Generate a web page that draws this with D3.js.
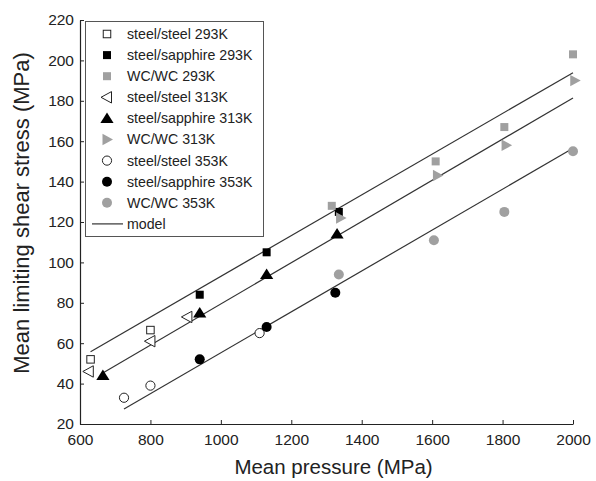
<!DOCTYPE html>
<html>
<head>
<meta charset="utf-8">
<script src="https://cdn.jsdelivr.net/npm/d3@7"></script>
<style>
  html, body { margin: 0; padding: 0; background: #fff; }
  svg { display: block; font-family: "Liberation Sans", Arial, sans-serif; }
</style>
</head>
<body>
<svg id="chart" width="596" height="481"></svg>
<script>
// Mean limiting shear stress vs mean pressure for three contact pairs at three temperatures
const xTicks = [600, 800, 1000, 1200, 1400, 1600, 1800, 2000];
const yTicks = [20, 40, 60, 80, 100, 120, 140, 160, 180, 200, 220];

const seriesNames = [
  "steel/steel 293K", "steel/sapphire 293K", "WC/WC 293K",
  "steel/steel 313K", "steel/sapphire 313K", "WC/WC 313K",
  "steel/steel 353K", "steel/sapphire 353K", "WC/WC 353K"
];
const seriesShapes = ["square", "square", "square", "triLeft", "triUp", "triRight", "circle", "circle", "circle"];
const seriesFills = ["open", "black", "gray", "open", "black", "gray", "open", "black", "gray"];

const steelSteel293P = [630, 800];
const steelSteel293T = [52, 66.5];
const steelSapphire293P = [940, 1130, 1335];
const steelSapphire293T = [84, 105, 125];
const wcwc293P = [1315, 1610, 1805, 2000];
const wcwc293T = [128, 150, 167, 203];

const steelSteel313P = [625, 800, 905];
const steelSteel313T = [46, 61, 73];
const steelSapphire313P = [665, 940, 1130, 1330];
const steelSapphire313T = [44, 75, 94, 114];
const wcwc313P = [1340, 1615, 1810, 2005];
const wcwc313T = [122, 143, 158, 190];

const steelSteel353P = [725, 800, 1110];
const steelSteel353T = [33, 39, 65];
const steelSapphire353P = [940, 1130, 1325];
const steelSapphire353T = [52, 68, 85];
const wcwc353P = [1335, 1605, 1805, 2000];
const wcwc353T = [94, 111, 125, 155];

const seriesP = [steelSteel293P, steelSapphire293P, wcwc293P, steelSteel313P, steelSapphire313P, wcwc313P, steelSteel353P, steelSapphire353P, wcwc353P];
const seriesT = [steelSteel293T, steelSapphire293T, wcwc293T, steelSteel313T, steelSapphire313T, wcwc313T, steelSteel353T, steelSapphire353T, wcwc353T];

// Model fit lines (one per temperature): start/end pressure and stress
const modelP = [[630, 2000], [666, 2000], [725, 2000]];
const modelT = [[55.8, 193.9], [45.4, 181.4], [27.4, 156.5]];

const svg = d3.select("#chart");
const plotLeft = 80, plotRight = 573, plotTop = 20, plotBottom = 424;

const x = d3.scaleLinear().domain([600, 2000]).range([plotLeft, plotRight]);
const y = d3.scaleLinear().domain([20, 220]).range([plotBottom, plotTop]);

const axisColor = "#222";
const gray = "#a0a0a0";

// Axes with inward ticks
const gx = svg.append("g").attr("transform", `translate(0,${plotBottom})`)
  .call(d3.axisBottom(x).tickValues(xTicks).tickSize(-4).tickPadding(8).tickSizeOuter(0).tickFormat(d3.format("d")));
const gy = svg.append("g").attr("transform", `translate(${plotLeft},0)`)
  .call(d3.axisLeft(y).tickValues(yTicks).tickSize(-4).tickPadding(8).tickSizeOuter(0).tickFormat(d3.format("d")));
[gx, gy].forEach(g => {
  g.select(".domain").attr("stroke", axisColor).attr("stroke-width", 1.2);
  g.selectAll(".tick line").attr("stroke", axisColor);
  g.selectAll(".tick text").attr("fill", "#222").style("font-size", "15.5px").style("font-family", "Liberation Sans, Arial, sans-serif");
});
gy.selectAll(".tick text").attr("x", -6);
gx.selectAll(".tick text").attr("dy", "0.85em");

// Axis titles
svg.append("text").attr("x", 333.5).attr("y", 474)
  .attr("text-anchor", "middle").attr("fill", "#222").style("font-size", "20.5px")
  .text("Mean pressure (MPa)");
svg.append("text").attr("transform", "translate(29,213) rotate(-90)")
  .attr("text-anchor", "middle").attr("fill", "#222").style("font-size", "22px")
  .text("Mean limiting shear stress (MPa)");

// Model lines
const line = d3.line().x(d => x(d[0])).y(d => y(d[1]));
modelP.forEach((p, i) => {
  svg.append("path")
    .attr("d", line([[p[0], modelT[i][0]], [p[1], modelT[i][1]]]))
    .attr("fill", "none").attr("stroke", "#333").attr("stroke-width", 1.2);
});

// Marker drawing
function drawMarker(g, shape, fill, cx, cy) {
  const fillColor = fill === "open" ? "#fff" : (fill === "black" ? "#000" : gray);
  const strokeColor = fill === "open" ? "#222" : fillColor;
  const sw = fill === "open" ? 1 : 0;
  let el;
  if (shape === "square") {
    const s = fill === "open" ? 7.5 : 8;
    el = g.append("rect").attr("x", cx - s / 2).attr("y", cy - s / 2).attr("width", s).attr("height", s);
  } else if (shape === "circle") {
    el = g.append("circle").attr("cx", cx).attr("cy", cy).attr("r", fill === "open" ? 4.6 : 5);
  } else {
    const h = 6;
    let pts;
    if (shape === "triUp") pts = [[cx, cy - h], [cx + h * 1.1, cy + h * 0.75], [cx - h * 1.1, cy + h * 0.75]];
    else if (shape === "triLeft") pts = [[cx - h, cy], [cx + h * 0.75, cy - h * 0.95], [cx + h * 0.75, cy + h * 0.95]];
    else pts = [[cx + h, cy], [cx - h * 0.75, cy - h * 0.95], [cx - h * 0.75, cy + h * 0.95]];
    el = g.append("polygon").attr("points", pts.map(p => p.join(",")).join(" "));
  }
  el.attr("fill", fillColor).attr("stroke", strokeColor).attr("stroke-width", sw);
}

const marks = svg.append("g");
seriesP.forEach((ps, i) => {
  ps.forEach((p, j) => drawMarker(marks, seriesShapes[i], seriesFills[i], x(p), y(seriesT[i][j])));
});

// Legend
const lg = svg.append("g");
lg.append("rect").attr("x", 85.5).attr("y", 21.5).attr("width", 178).attr("height", 215)
  .attr("fill", "#fff").attr("stroke", "#555").attr("stroke-width", 1);
const rowY = i => 34 + i * 21.1;
seriesNames.forEach((name, i) => {
  drawMarker(lg, seriesShapes[i], seriesFills[i], 107, rowY(i));
  lg.append("text").attr("x", 127).attr("y", rowY(i)).attr("dy", "0.35em")
    .attr("fill", "#222").style("font-size", "14.2px").text(name);
});
lg.append("line").attr("x1", 92).attr("x2", 123).attr("y1", rowY(9)).attr("y2", rowY(9))
  .attr("stroke", "#333").attr("stroke-width", 1.2);
lg.append("text").attr("x", 127).attr("y", rowY(9)).attr("dy", "0.35em")
  .attr("fill", "#222").style("font-size", "14.2px").text("model");
</script>
</body>
</html>
